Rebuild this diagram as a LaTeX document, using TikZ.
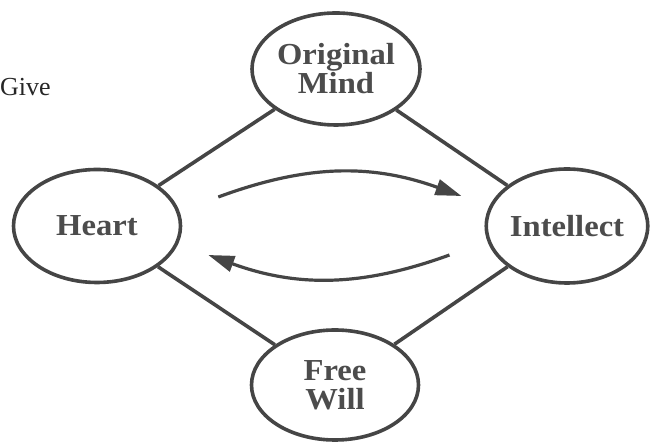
\documentclass[tikz,border=0pt]{standalone}
\usepackage{fontspec}
\setmainfont{Liberation Serif}
\newfontfamily\labelfont[FakeStretch=1.07]{Liberation Serif}
\usepackage{xcolor}
\usetikzlibrary{arrows.meta,positioning,shapes.geometric}
\definecolor{ink}{HTML}{454545}
\definecolor{labelink}{HTML}{4C4C4C}

\begin{document}
\begin{tikzpicture}[
		x=1pt, y=1pt,
		state/.style={
			ellipse,
			draw=ink,
			line width=3.6pt,
			inner sep=0pt,
			align=center,
			text=labelink,
			font=\labelfont\bfseries\fontsize{30.5}{29}\selectfont
		},
		link/.style={draw=ink, line width=3.6pt},
		flow/.style={draw=ink, line width=3.2pt, -{Triangle[length=26pt,width=16pt]}}
	]
	\useasboundingbox (0,0) rectangle (652,443);
	
	\node[anchor=base west, inner xsep=0pt, text=black!85, font=\fontsize{26}{26}\selectfont] (give) at (0,347) {Give};
	
	\node[state, minimum width=168pt, minimum height=112pt] (mind) at (336,374) {Original\\Mind};
	\node[state, minimum width=167pt, minimum height=113pt] (heart) at (97,217) {Heart};
	\node[state, minimum width=158pt, minimum height=114pt] (intellect) at (567,217) {Intellect};
	\node[state, minimum width=167pt, minimum height=110pt] (will) at (335,58) {Free\\Will};
	
	\draw[link] (mind) -- (heart);
	\draw[link] (mind) -- (intellect);
	\draw[link] (heart) -- (will);
	\draw[link] (will) -- (intellect);
	
	% arrows between heart and intellect
	\coordinate[above right=29pt and 36pt of heart.east] (toint-from);
	\coordinate[above left=30pt and 23pt of intellect.west] (toint-to);
	\coordinate[below left=29pt and 35pt of intellect.west] (toheart-from);
	\coordinate[below right=29pt and 26pt of heart.east] (toheart-to);
	
	\draw[flow] (toint-from) to[bend left=20] (toint-to);
	\draw[flow] (toheart-from) to[bend left=20] (toheart-to);
	
\end{tikzpicture}
\end{document}
